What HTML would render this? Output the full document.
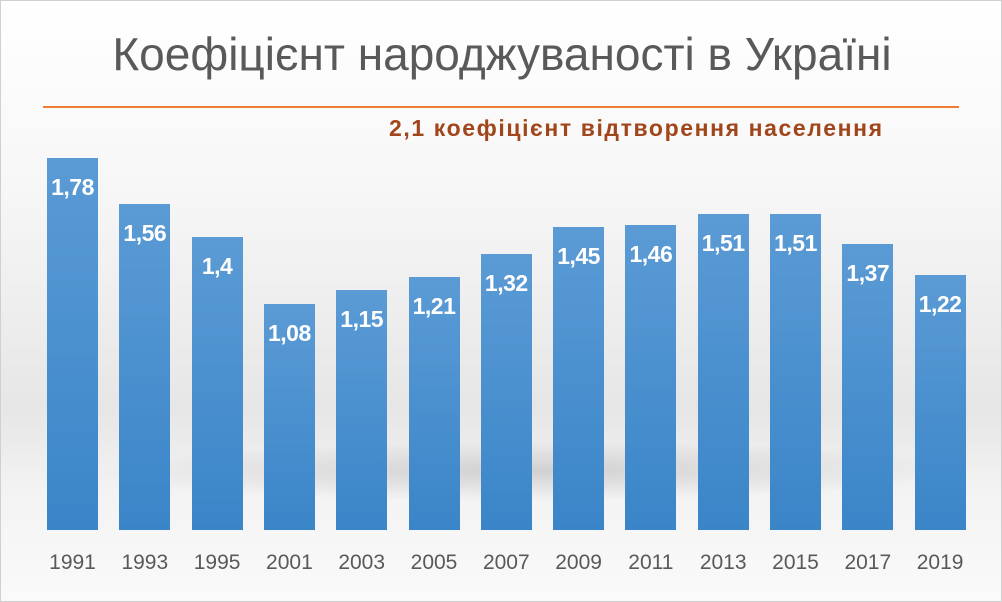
<!DOCTYPE html>
<html><head><meta charset="utf-8"><style>
body{margin:0;width:1002px;height:602px;overflow:hidden;font-family:"Liberation Sans","DejaVu Sans",sans-serif}
#c{position:absolute;left:0;top:0;width:1000px;height:600px;border:1px solid #d0d0d0;
background:linear-gradient(180deg,#ffffff 0%,#f7f7f7 30%,#ececec 55%,#e6e6e6 68%,#f3f3f3 82%,#fafafa 100%)}
.t{position:absolute;left:0;width:1002px;top:26px;text-align:center;font-size:46px;color:#595959}
.ol{position:absolute;left:42px;width:916px;top:105px;height:2px;background:#ed7d31}
.ot{position:absolute;left:388px;width:520px;top:114px;font-size:23px;font-weight:bold;color:#a0461a;letter-spacing:1.6px;white-space:nowrap}
.b{position:absolute;width:51px;bottom:71px;background:linear-gradient(180deg,#5b9bd5,#3a85c8)}
.v{position:absolute;width:51px;text-align:center;color:#fff;font-weight:bold;font-size:23px;letter-spacing:-0.5px}
.x{position:absolute;width:72px;text-align:center;top:550px;font-size:21px;color:#595959}
.sh{position:absolute;left:90px;top:440px;width:880px;height:60px;background:radial-gradient(ellipse at center,rgba(150,150,150,.35),rgba(150,150,150,0) 70%);transform:skewX(-40deg)}
</style></head><body><div id="c">
<div class="sh"></div>
<div class="t">Коефіцієнт народжуваності в Україні</div>
<div class="ol"></div>
<div class="ot">2,1 коефіцієнт відтворення населення</div>
<div id="bars"></div>
</div>
<script>
var d=[["1991",1.78],["1993",1.56],["1995",1.4],["2001",1.08],["2003",1.15],["2005",1.21],["2007",1.32],["2009",1.45],["2011",1.46],["2013",1.51],["2015",1.51],["2017",1.37],["2019",1.22]];
var h="";d.forEach(function(e,i){var x=46+i*72.3,hh=e[1]*209,top=530-hh;
h+='<div class="b" style="left:'+x+'px;height:'+hh+'px"></div>';
h+='<div class="v" style="left:'+x+'px;top:'+(top+15)+'px">'+String(e[1]).replace(".",",")+'</div>';
h+='<div class="x" style="left:'+(x-10.5)+'px">'+e[0]+'</div>';});
document.getElementById("bars").innerHTML=h;
</script></body></html>
